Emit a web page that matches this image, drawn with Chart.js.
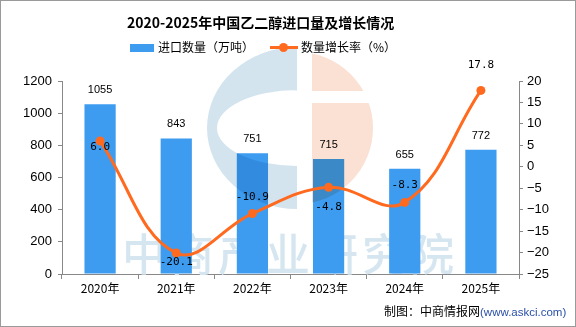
<!DOCTYPE html>
<html>
<head>
<meta charset="utf-8">
<script src="https://cdn.jsdelivr.net/npm/chart.js@4"></script>
<style>
  html, body { margin: 0; padding: 0; background: #fff; }
  #wrap { position: relative; width: 576px; height: 327px; overflow: hidden; font-family: "Noto Sans CJK SC", sans-serif; }
  #frame { position: absolute; left: 0; top: 0; width: 576px; height: 327px; box-sizing: border-box; border: 1px solid #9a9a9a; pointer-events: none; }
  canvas { position: absolute; left: 0; top: 0; }
  .title { position: absolute; left: 127px; top: 12px; font-size: 14px; font-weight: bold; color: #000; line-height: 20px; white-space: nowrap; }
  .legend { position: absolute; top: 39px; font-size: 12px; line-height: 16px; color: #000; white-space: nowrap; }
  .box { position: absolute; left: 130px; top: 44px; width: 24px; height: 8px; background: #3d9cf0; }
  .lline { position: absolute; left: 270px; top: 46px; width: 28px; height: 3px; background: #ff6a1f; }
  .ldot { position: absolute; left: 279px; top: 43px; width: 9px; height: 9px; border-radius: 50%; background: #ff6a1f; }
  .foot { position: absolute; left: 384px; top: 302px; font-size: 12px; line-height: 18px; color: #000; white-space: nowrap; }
  .foot span { color: #2a4fa8; font-family: "Liberation Sans", sans-serif; font-size: 11.5px; }
</style>
</head>
<body>
<div id="wrap">
  <canvas id="c" width="576" height="327"></canvas>
  <div class="title">2020-2025年中国乙二醇进口量及增长情况</div>
  <div class="box"></div>
  <div class="legend" style="left:158px">进口数量（万吨）</div>
  <div class="lline"></div><div class="ldot"></div>
  <div class="legend" style="left:301px">数量增长率（%）</div>
  <div class="foot">制图：中商情报网<span>(www.askci.com)</span></div>
  <div id="frame"></div>
</div>
<script>
// data
const years = ['2020年', '2021年', '2022年', '2023年', '2024年', '2025年']
const imports = [1055, 843, 751, 715, 655, 772]
const growth = [6.0, -20.1, -10.9, -4.8, -8.3, 17.8]
const leftTicks = [0, 200, 400, 600, 800, 1000, 1200]
const rightTicks = [-25, -20, -15, -10, -5, 0, 5, 10, 15, 20]

const blue = '#3d9cf0'
const orange = '#ff6a1f'

// vertical shift of each growth label from its point
const growthLabelDy = [6, 9, -16, 20, -17, -25]

const watermark = {
  id: 'watermark',
  beforeDatasetsDraw(chart) {
    const ctx = chart.ctx
    ctx.save()
    ctx.fillStyle = '#d6e6f0'
    ctx.font = '500 44px "Noto Sans CJK SC"'
    ctx.textAlign = 'center'
    ctx.textBaseline = 'middle'
    const txt = '中商产业研究院'
    for (let i = 0; i < txt.length; i++) {
      ctx.fillText(txt[i], 144 + i * 48, 254)
    }
    ctx.restore()
  },
  afterDatasetDraw(chart, args) {
    if (args.index !== 0) return
    const ctx = chart.ctx
    const cx = 297, cy = 128
    ctx.save()
    ctx.globalCompositeOperation = 'multiply'
    // blue "C"
    ctx.beginPath()
    ctx.ellipse(cx, cy, 90, 81, 0, Math.PI / 2, Math.PI * 1.5)
    ctx.closePath()
    ctx.ellipse(cx, cy, 80, 38, 0, Math.PI / 2, Math.PI * 1.5)
    ctx.closePath()
    ctx.fillStyle = '#d3e4ee'
    ctx.fill('evenodd')
    // orange half disc with a gap
    ctx.beginPath()
    ctx.rect(312, 40, 80, 51)
    ctx.rect(312, 103, 80, 120)
    ctx.clip()
    ctx.beginPath()
    ctx.arc(cx, cy, 76, -Math.PI / 2, Math.PI / 2)
    ctx.closePath()
    ctx.fillStyle = '#fbe0d4'
    ctx.fill()
    ctx.restore()
  },
  afterDatasetsDraw(chart) {
    const ctx = chart.ctx
    ctx.save()
    ctx.fillStyle = '#000'
    ctx.textAlign = 'center'
    ctx.textBaseline = 'middle'
    ctx.font = '11px "Liberation Sans"'
    chart.getDatasetMeta(0).data.forEach((bar, i) => {
      ctx.fillText(String(imports[i]), bar.x, bar.y - 14)
    })
    ctx.font = '11px "DejaVu Sans Mono"'
    chart.getDatasetMeta(1).data.forEach((pt, i) => {
      ctx.fillText(growth[i].toFixed(1), pt.x, pt.y + growthLabelDy[i])
    })
    ctx.restore()
  }
}

new Chart(document.getElementById('c'), {
  type: 'bar',
  data: {
    labels: years,
    datasets: [
      {
        type: 'bar',
        label: '进口数量（万吨）',
        data: imports,
        backgroundColor: blue,
        yAxisID: 'y',
        barPercentage: 0.41,
        categoryPercentage: 1,
        order: 1
      },
      {
        type: 'line',
        label: '数量增长率（%）',
        data: growth,
        borderColor: orange,
        backgroundColor: orange,
        borderWidth: 3,
        tension: 0.4,
        pointRadius: 4.5,
        pointBackgroundColor: orange,
        pointBorderWidth: 0,
        yAxisID: 'y1',
        order: 0
      }
    ]
  },
  options: {
    responsive: false,
    animation: false,
    layout: { padding: { top: 81, left: 0, right: 0, bottom: 0 } },
    plugins: {
      legend: { display: false },
      title: { display: false },
      tooltip: { enabled: false }
    },
    scales: {
      x: {
        offset: true,
        grid: { offset: true, drawOnChartArea: false, tickLength: 5, color: '#888' },
        border: { color: '#888' },
        ticks: { color: '#000', font: { family: 'Noto Sans CJK SC', size: 12 }, padding: 2 },
        afterFit: (s) => { s.height = 53 }
      },
      y: {
        position: 'left',
        min: 0,
        max: 1200,
        afterBuildTicks: (s) => { s.ticks = leftTicks.map((v) => ({ value: v })) },
        grid: { drawOnChartArea: false, tickLength: 4, color: '#888' },
        border: { color: '#888' },
        ticks: {
          color: '#000',
          font: { family: 'Liberation Sans', size: 13 },
          padding: 6,
          callback: (v) => String(v)
        },
        afterFit: (s) => { s.width = 62 }
      },
      y1: {
        position: 'right',
        min: -25,
        max: 20,
        afterBuildTicks: (s) => { s.ticks = rightTicks.map((v) => ({ value: v })) },
        grid: { drawOnChartArea: false, tickLength: 4, color: '#888' },
        border: { color: '#888' },
        ticks: {
          color: '#000',
          font: { family: 'Liberation Sans', size: 13 },
          padding: 4,
          callback: (v) => String(v).replace('-', '−')
        },
        afterFit: (s) => { s.width = 57 }
      }
    }
  },
  plugins: [watermark]
})
</script>
</body>
</html>
